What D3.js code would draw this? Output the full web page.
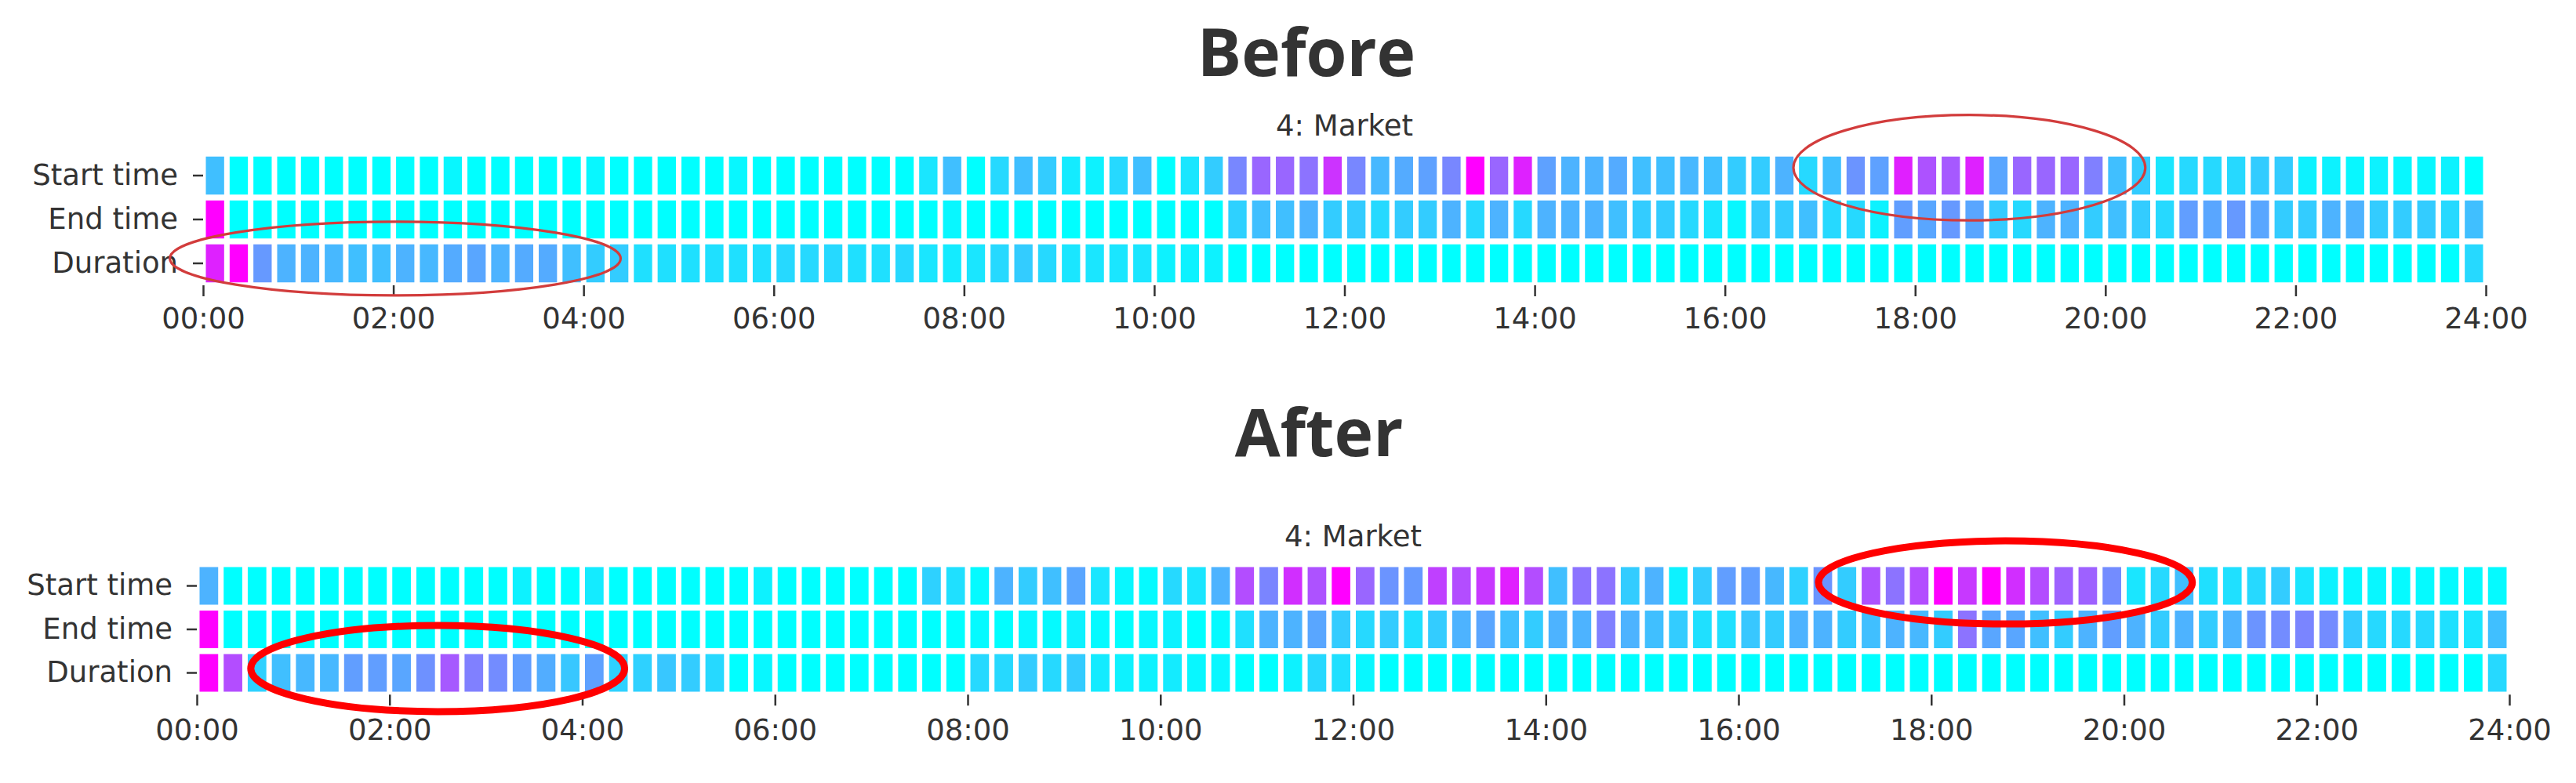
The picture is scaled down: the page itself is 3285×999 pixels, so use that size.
<!DOCTYPE html>
<html>
<head>
<meta charset="utf-8">
<script src="https://cdn.jsdelivr.net/npm/d3@7/dist/d3.min.js"></script>
<style>
  html, body { margin: 0; padding: 0; background: #ffffff; }
  svg { display: block; }
</style>
</head>
<body>
<div id="chart"></div>
<script>
// ---------------- DATA ----------------
const rowLabels = ["Start time", "End time", "Duration"];
const hourTicks = [0, 2, 4, 6, 8, 10, 12, 14, 16, 18, 20, 22, 24];
const hourTickLabels = ["00:00","02:00","04:00","06:00","08:00","10:00","12:00","14:00","16:00","18:00","20:00","22:00","24:00"];
const panelTitles = ["Before", "After"];
const panelSubtitle = "4: Market";

// 96 quarter-hour bins, values on the "cool" colormap scale (0 = cyan, 1 = magenta)
const beforeStart = [
  0.25,0,0,0,0,0,0,0,0,0, 0.03,0,0,0,0,0,0.03,0,0,0, 0,0,0.03,0,0,0,0,0,0,0,
  0.1,0.25,0,0.15,0.25,0.2,0.08,0.05,0.15,0.25, 0,0.1,0.2,0.47,0.6,0.6,0.55,0.8,0.47,0.28,
  0.33,0.37,0.47,1.0,0.6,0.87,0.37,0.3,0.3,0.33, 0.25,0.25,0.28,0.25,0.2,0.2,0.3,0.15,0.25,0.42,
  0.37,0.88,0.68,0.65,0.87,0.35,0.6,0.6,0.6,0.5, 0.25,0.2,0.1,0.15,0.15,0.15,0.2,0.2,0.05,0.05,
  0.03,0.05,0.03,0.03,0.05,0
];
const beforeEnd = [
  1.0,0,0,0,0,0,0,0,0,0, 0,0,0,0,0,0,0,0,0,0, 0,0,0,0,0,0,0,0,0,0,
  0,0.03,0,0,0,0,0,0,0,0, 0,0,0,0.18,0.25,0.25,0.3,0.2,0.2,0.15,
  0.2,0.2,0.3,0.15,0.3,0.15,0.3,0.3,0.3,0.25, 0.2,0.2,0.15,0.1,0.03,0.2,0.2,0.25,0.15,0.15,
  0.05,0.38,0.35,0.4,0.35,0.2,0.15,0.3,0.3,0.2, 0.25,0.2,0.15,0.38,0.35,0.4,0.35,0.2,0.2,0.3,
  0.3,0.2,0.2,0.2,0.15,0.25
];
const beforeDuration = [
  0.87,1.0,0.4,0.3,0.3,0.28,0.25,0.25,0.3,0.28, 0.33,0.35,0.3,0.33,0.33,0.25,0.2,0.2,0.12,0.12,
  0.12,0.12,0.12,0.12,0.15,0.15,0.15,0.12,0.12,0.15, 0.1,0.08,0.1,0.15,0.2,0.15,0.1,0.1,0.1,0.1,
  0.05,0.05,0.05,0,0,0,0,0,0,0, 0,0,0,0,0,0,0,0,0,0,
  0,0,0,0,0,0,0,0,0,0, 0,0,0,0,0,0,0,0,0,0,
  0,0,0,0,0,0,0,0,0,0, 0,0,0,0,0,0.15
];
const afterStart = [
  0.3,0,0,0,0,0,0,0,0,0, 0,0,0,0.05,0,0,0.08,0,0,0, 0,0,0,0.05,0,0,0,0,0,0,
  0.18,0.12,0.02,0.3,0.2,0.25,0.35,0.1,0.03,0.02, 0.15,0.1,0.3,0.7,0.48,0.82,0.68,1.0,0.6,0.42,
  0.4,0.75,0.7,0.78,0.88,0.7,0.25,0.55,0.55,0.2, 0.3,0.05,0.2,0.38,0.38,0.28,0.18,0.42,0.2,0.68,
  0.55,0.7,1.0,0.78,1.0,0.82,0.7,0.62,0.62,0.45, 0.1,0.15,0.25,0.12,0.12,0.15,0.2,0.1,0.05,0.03,
  0.03,0.02,0.02,0.02,0.02,0.02
];
const afterEnd = [
  1.0,0,0,0,0,0,0,0,0,0, 0,0,0,0,0,0,0,0,0,0, 0,0,0,0,0,0,0,0,0,0,
  0,0,0.02,0,0.03,0.02,0.05,0.02,0,0.03, 0.05,0,0.02,0.12,0.3,0.3,0.35,0.2,0.15,0.2,
  0.12,0.2,0.3,0.35,0.25,0.2,0.3,0.3,0.5,0.3, 0.25,0.2,0.12,0.12,0.22,0.2,0.3,0.3,0.2,0.25,
  0.3,0.28,0.2,0.55,0.35,0.35,0.25,0.2,0.3,0.38, 0.3,0.2,0.3,0.2,0.3,0.42,0.45,0.48,0.45,0.2,
  0.15,0.15,0.15,0.12,0.1,0.25
];
const afterDuration = [
  1.0,0.7,0.18,0.25,0.28,0.28,0.38,0.38,0.35,0.43, 0.65,0.5,0.45,0.38,0.32,0.22,0.37,0.18,0.18,0.22,
  0.2,0.15,0,0.03,0,0,0,0,0,0, 0,0,0.15,0.15,0.2,0.15,0.2,0.08,0.05,0.05,
  0.08,0.03,0.03,0,0,0.05,0.15,0.12,0.03,0, 0,0,0,0,0,0,0,0,0,0,
  0,0,0,0,0,0,0,0,0,0, 0,0,0,0,0,0,0,0,0,0,
  0,0,0,0,0,0,0,0,0,0, 0,0,0,0,0,0.15
];

// Annotation ellipses in data units: hour centre / radius, row centre / radius
const beforeEllipses = [
  { cxHour: 2.02, cyRow: 2.39, rxHour: 2.37, ryRow: 0.84 },
  { cxHour: 18.57, cyRow: 0.32, rxHour: 1.85, ryRow: 1.2 }
];
const afterEllipses = [
  { cxHour: 2.50, cyRow: 2.40, rxHour: 1.94, ryRow: 0.99 },
  { cxHour: 18.77, cyRow: 0.42, rxHour: 1.94, ryRow: 0.955 }
];

// ---------------- LAYOUT ----------------
const W = 3285, H = 999;
const svg = d3.select("#chart").append("svg").attr("width", W).attr("height", H);

const coolColor = v => d3.interpolateRgb("rgb(0,255,255)", "rgb(255,0,255)")(v);
const bins = d3.range(96);

const panels = [
  { title: panelTitles[0], titleX: 1666, titleY: 97, subY: 173,
    x0: 259, x1: 3170, y0: 196, y1: 364,
    series: [beforeStart, beforeEnd, beforeDuration], ellipses: beforeEllipses,
    ellStroke: "#d23c3c", ellWidth: 3.2, yPad: 19, xPad: 15 },
  { title: panelTitles[1], titleX: 1682, titleY: 582, subY: 697,
    x0: 251, x1: 3200, y0: 719.75, y1: 886.25,
    series: [afterStart, afterEnd, afterDuration], ellipses: afterEllipses,
    ellStroke: "#ff0000", ellWidth: 9, yPad: 18, xPad: 17 }
];

panels.forEach(p => {
  const g = svg.append("g");

  const xBand = d3.scaleBand().domain(bins).range([p.x0, p.x1]).padding(0);
  const xHour = d3.scaleLinear().domain([0, 24]).range([p.x0, p.x1]);
  const yBand = d3.scaleBand().domain(rowLabels).range([p.y0, p.y1]).padding(0);
  const yRow = d3.scaleLinear().domain([0, 3]).range([p.y0, p.y1]);

  // Titles
  g.append("text")
    .attr("x", p.titleX).attr("y", p.titleY)
    .attr("text-anchor", "middle")
    .attr("font-family", "'Open Sans', 'Noto Sans', sans-serif")
    .attr("font-weight", 700)
    .attr("font-size", 84)
    .attr("fill", "#333333")
    .text(p.title);

  g.append("text")
    .attr("x", (p.x0 + p.x1) / 2).attr("y", p.subY)
    .attr("text-anchor", "middle")
    .attr("font-family", "'DejaVu Sans', sans-serif")
    .attr("font-size", 37)
    .attr("fill", "#333333")
    .text(panelSubtitle);

  // Cells
  const gapX = 7, gapY = 7.5;
  rowLabels.forEach((lab, r) => {
    g.append("g").selectAll("rect")
      .data(p.series[r])
      .join("rect")
      .attr("x", (d, i) => xBand(i) + gapX / 2)
      .attr("width", xBand.bandwidth() - gapX)
      .attr("y", yBand(lab) + gapY / 2)
      .attr("height", yBand.bandwidth() - gapY)
      .attr("fill", d => coolColor(d));
  });

  // X axis
  const xAxis = d3.axisBottom(xHour)
    .tickValues(hourTicks)
    .tickFormat((d, i) => hourTickLabels[i])
    .tickSize(14)
    .tickPadding(p.xPad);
  const xg = g.append("g").attr("transform", `translate(0,${p.y1})`).call(xAxis);
  xg.select(".domain").remove();
  xg.selectAll(".tick line").attr("stroke", "#333").attr("stroke-width", 2.5);
  xg.selectAll(".tick text")
    .attr("font-family", "'DejaVu Sans', sans-serif")
    .attr("font-size", 37)
    .attr("fill", "#333");

  // Y axis
  const yAxis = d3.axisLeft(yBand).tickSize(13).tickPadding(p.yPad);
  const yg = g.append("g").attr("transform", `translate(${p.x0},0)`).call(yAxis);
  yg.select(".domain").remove();
  yg.selectAll(".tick line").attr("stroke", "#333").attr("stroke-width", 2.5);
  yg.selectAll(".tick text")
    .attr("font-family", "'DejaVu Sans', sans-serif")
    .attr("font-size", 37)
    .attr("fill", "#333");

  // Annotation ellipses
  g.append("g").selectAll("ellipse")
    .data(p.ellipses)
    .join("ellipse")
    .attr("cx", d => xHour(d.cxHour))
    .attr("cy", d => yRow(d.cyRow))
    .attr("rx", d => xHour(d.rxHour) - xHour(0))
    .attr("ry", d => yRow(d.ryRow) - yRow(0))
    .attr("fill", "none")
    .attr("stroke", p.ellStroke)
    .attr("stroke-width", p.ellWidth);
});
</script>
</body>
</html>
